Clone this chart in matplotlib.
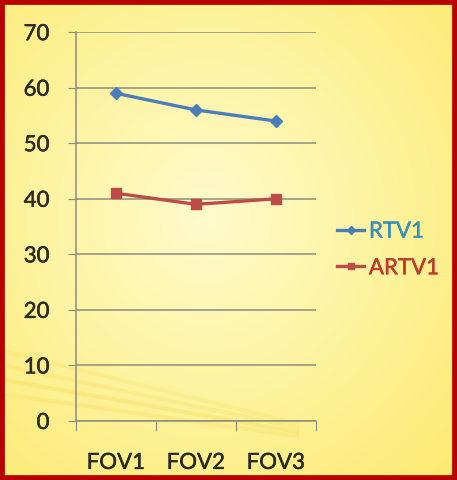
import numpy as np
import matplotlib.pyplot as plt
import matplotlib.patheffects as pe
from matplotlib.patches import Rectangle

categories = ['FOV1', 'FOV2', 'FOV3']
rtv1 = [59, 56, 54]
artv1 = [41, 39, 40]
yticks = [0, 10, 20, 30, 40, 50, 60, 70]

plt.rcParams['font.family'] = ['Lato', 'DejaVu Sans']

fig = plt.figure(figsize=(4.57, 4.80), dpi=100)

# yellow textured background
bg = fig.add_axes([0, 0, 1, 1], zorder=0)
yy, xx = np.mgrid[0:1:240j, 0:1:230j]
r = np.sqrt((xx - 0.45) ** 2 + (yy - 0.55) ** 2)
light = np.array([1.0, 0.985, 0.80])
dark = np.array([0.99, 0.92, 0.45])
t = np.clip(r / 0.75, 0, 1)[..., None]
img = light * (1 - t) + dark * t
bg.imshow(img, extent=[0, 1, 0, 1], aspect='auto', origin='lower')
# faint streaks bottom-left
for off, a in [(0.0, 0.35), (0.03, 0.25), (0.06, 0.2), (-0.03, 0.25)]:
    bg.plot([0.0, 0.65], [0.21 + off, 0.10 + off * 0.3], color='#f3dc55', lw=3, alpha=a)
bg.set_xlim(0, 1)
bg.set_ylim(0, 1)
bg.axis('off')

ax = fig.add_axes([0.166, 0.123, 0.525, 0.81], zorder=1)
ax.patch.set_alpha(0)
x = np.arange(len(categories))
ax.plot(x, rtv1, color='#4a7ebb', lw=2.4, marker='D', ms=6, label='RTV1')
ax.plot(x, artv1, color='#be4b48', lw=2.4, marker='s', ms=6.5, label='ARTV1')

ax.set_xlim(-0.5, 2.5)
ax.set_ylim(0, 70)
ax.set_yticks(yticks)
ax.grid(axis='y', color='#8c8c80', lw=1.1)
ax.set_axisbelow(True)
for s in ['top', 'right']:
    ax.spines[s].set_visible(False)
for s in ['left', 'bottom']:
    ax.spines[s].set_color('#8c8c80')
    ax.spines[s].set_linewidth(1.1)
ax.set_xticks([-0.5, 0.5, 1.5, 2.5])
ax.set_xticklabels([])
ax.set_xticks(x, minor=True)
ax.set_xticklabels(categories, minor=True)
ax.tick_params(axis='x', which='major', length=7, color='#8c8c80', direction='out')
ax.tick_params(axis='x', which='minor', length=0, pad=23, labelsize=16, labelcolor='#2b2b1e')
ax.tick_params(axis='y', length=6, color='#8c8c80', pad=13, labelsize=16, labelcolor='#2b2b1e')

leg = ax.legend(loc='center left', bbox_to_anchor=(1.09, 0.44), frameon=False,
                borderaxespad=0, borderpad=0, markerscale=0.75,
                fontsize=16, handlelength=1.2, handletextpad=0.22, labelspacing=0.75)
leg.get_texts()[0].set_color('#3a8fb7')
leg.get_texts()[1].set_color('#c0392b')

# thicken text a little, like the blurry original
for lab in ax.get_xticklabels(minor=True) + ax.get_yticklabels():
    lab.set_path_effects([pe.withStroke(linewidth=0.35, foreground='#2b2b1e')])
for txt in leg.get_texts():
    txt.set_path_effects([pe.withStroke(linewidth=0.35, foreground=txt.get_color())])

# dark red border
fig.patches.append(Rectangle((0, 0), 1, 1, transform=fig.transFigure, fill=False,
                             edgecolor='#b80000', lw=7, zorder=5))

fig.savefig('out.png', dpi=100)
